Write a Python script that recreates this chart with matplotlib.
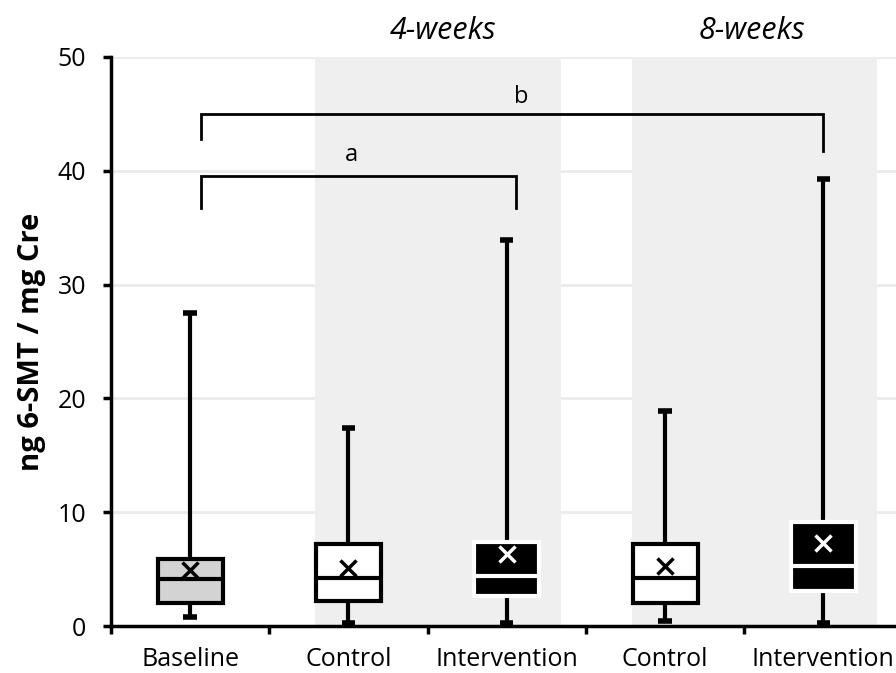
import matplotlib
matplotlib.use("Agg")
import matplotlib.pyplot as plt
from matplotlib.patches import Rectangle

plt.rcParams['font.family'] = ['Open Sans', 'DejaVu Sans']

categories = ["Baseline", "Control", "Intervention", "Control", "Intervention"]
whislo = [0.8, 0.3, 0.3, 0.4, 0.3]
q1     = [2.0, 2.2, 2.6, 2.0, 3.1]
med    = [4.1, 4.2, 4.4, 4.2, 5.3]
q3     = [5.9, 7.2, 7.4, 7.2, 9.1]
whishi = [27.5, 17.4, 33.9, 18.9, 39.3]
means  = [4.9, 5.1, 6.3, 5.3, 7.3]
box_fill = ["#d3d3d3", "white", "black", "white", "black"]
box_edge = ["black", "black", "white", "black", "white"]
inner    = ["black", "black", "white", "black", "white"]

group_labels = ["4-weeks", "8-weeks"]
group_spans = [(1.79, 3.34), (3.79, 5.34)]
group_label_x = [2.6, 4.55]

brackets = [  # (x_left, x_right, y_top, y_left_end, y_right_end, label, label_x, label_y)
    (1.07, 3.06, 39.5, 36.7, 36.7, "a", 2.02, 41.4),
    (1.07, 5.00, 45.0, 42.8, 41.7, "b", 3.09, 46.5),
]

fig = plt.figure(figsize=(8.96, 6.73), dpi=100)
ax = fig.add_axes([111/896, 47/673, 791.5/896, 569/673])
ax.set_xlim(0.5, 5.5)
ax.set_ylim(0, 50)

# gridlines
for yv in range(10, 51, 10):
    ax.axhline(yv, color="#ebebeb", lw=2, zorder=0)

# shaded groups
for (x0, x1) in group_spans:
    ax.add_patch(Rectangle((x0, 0), x1 - x0, 50, facecolor="#efefef",
                           edgecolor="none", zorder=0.5))

stats = []
for i in range(len(categories)):
    stats.append(dict(whislo=whislo[i], q1=q1[i], med=med[i], q3=q3[i],
                      whishi=whishi[i], mean=means[i], label=categories[i]))

positions = list(range(1, len(categories) + 1))
bp = ax.bxp(stats, positions=positions, widths=0.41, patch_artist=True,
            showmeans=True, showfliers=False,
            whiskerprops=dict(color="black", lw=3, solid_capstyle="butt"),
            capprops=dict(color="black", lw=4, solid_capstyle="butt"),
            capwidths=0.085,
            medianprops=dict(lw=3),
            meanprops=dict(marker="x", markersize=11, markeredgewidth=2.5),
            boxprops=dict(lw=3))
for i, box in enumerate(bp['boxes']):
    box.set_facecolor(box_fill[i])
    box.set_edgecolor(box_edge[i])
    box.set_zorder(3)
    bp['medians'][i].set_color(inner[i])
    bp['medians'][i].set_zorder(4)
    bp['means'][i].set_markeredgecolor(inner[i])
    bp['means'][i].set_markerfacecolor(inner[i])
    bp['means'][i].set_zorder(5)
for w in bp['whiskers']:
    w.set_zorder(2)
for c in bp['caps']:
    c.set_zorder(2)

# brackets
for (xl, xr, yt, yl, yr, lab, lx, ly) in brackets:
    ax.plot([xl, xl, xr, xr], [yl, yt, yt, yr], color="black", lw=2,
            solid_joinstyle="miter", zorder=6)
    ax.text(lx, ly, lab, ha="center", va="center", fontsize=17, zorder=6)

# group labels
for gx, gl in zip(group_label_x, group_labels):
    ax.text(gx, 52.3, gl, ha="center", va="center", fontsize=22,
            style="italic", clip_on=False)

# axes styling
for s in ["top", "right"]:
    ax.spines[s].set_visible(False)
for s in ["left", "bottom"]:
    ax.spines[s].set_linewidth(2.5)
    ax.spines[s].set_zorder(7)

ax.set_yticks(range(0, 51, 10))
ax.tick_params(axis="y", length=6, width=2.5, direction="out", pad=12,
               labelsize=18)
ax.set_xticks(positions)
ax.set_xticklabels(categories)
ax.set_xticks([p + 0.5 for p in [0] + positions], minor=True)
ax.tick_params(axis="x", which="major", length=0, pad=15, labelsize=18)
ax.tick_params(axis="x", which="minor", length=6, width=2.5, direction="out")
ax.set_ylabel("ng 6-SMT / mg Cre", fontsize=21, fontweight="bold", labelpad=8)

fig.savefig("out.png", dpi=100)
